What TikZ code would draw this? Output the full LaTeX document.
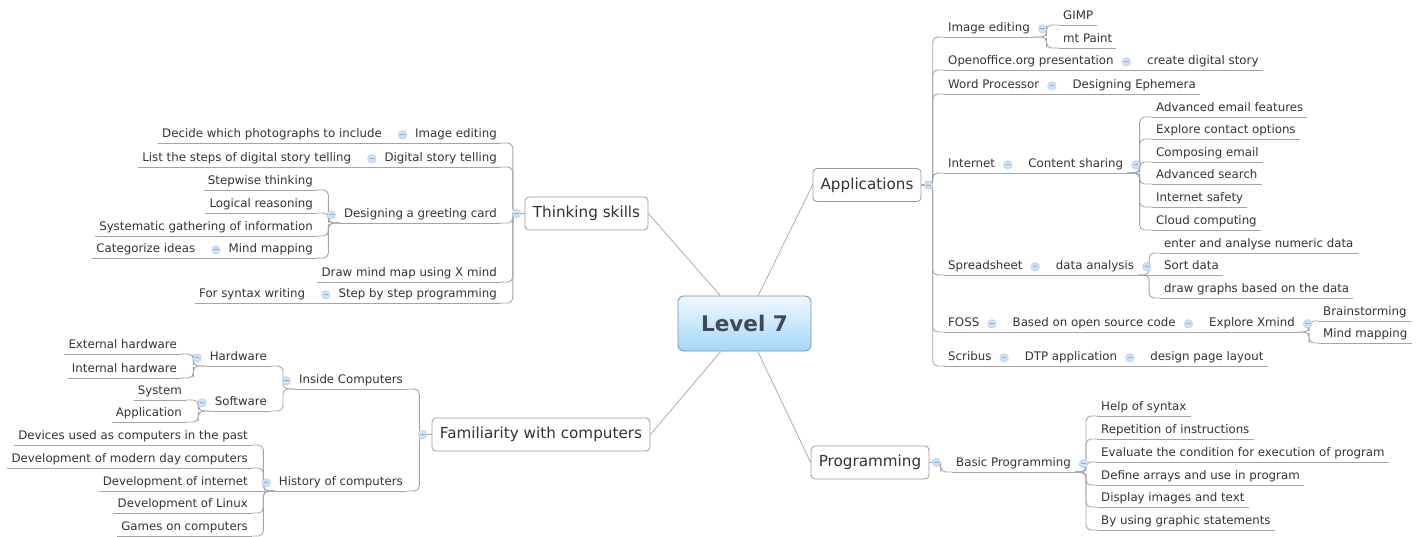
\documentclass[tikz,border=0pt]{standalone}
\usepackage{fontspec}
\setmainfont{DejaVu Sans}
\usetikzlibrary{positioning,calc}
\definecolor{ink}{HTML}{333333}
\definecolor{wire}{HTML}{A4A4A4}
\definecolor{frame}{HTML}{9A9A9A}
\definecolor{lvltop}{HTML}{F0F8FE}
\definecolor{lvlbot}{HTML}{A6D7F8}
\definecolor{lvlframe}{HTML}{7392AC}
\definecolor{lvlink}{HTML}{3C4A57}
\definecolor{togfill}{HTML}{CFE1F5}
\definecolor{togline}{HTML}{A9C5E8}
\definecolor{togdash}{HTML}{8EAFD8}
\tikzset{
  root/.style={rectangle, rounded corners=6pt, draw=lvlframe, top color=lvltop, bottom color=lvlbot,
               line width=0.8pt, minimum width=133pt, minimum height=55pt,
               font=\fontsize{21.5}{24}\selectfont\bfseries, text=lvlink},
  topic/.style={rectangle, rounded corners=4pt, draw=frame, fill=white, line width=0.8pt,
                minimum height=33pt, inner xsep=0pt, font=\fontsize{15.2}{18}\selectfont, text=ink},
  leaf/.style={inner xsep=4pt, inner ysep=2pt, text height=9pt, text depth=3pt,
               font=\fontsize{11.8}{14}\selectfont, text=ink},
  uline/.style={draw=wire, line width=0.9pt},
  link/.style={draw=wire, line width=0.9pt, rounded corners=5pt},
  spoke/.style={draw=wire!85, line width=0.9pt},
  tog/.style={circle, fill=togfill, draw=togline, line width=0.4pt, minimum size=8.5pt, inner sep=0pt,
              path picture={\draw[togdash, line width=0.9pt]
                ([xshift=-2.2pt]path picture bounding box.center) -- ([xshift=2.2pt]path picture bounding box.center);}}
}
\begin{document}
\begin{tikzpicture}[x=1pt, y=-1pt]
 \useasboundingbox (0,0) rectangle (1423,537);
 % centre and main branches
 \node[root] (lvl) at (744.5,323.5) {Level 7};
 \node[topic, minimum width=123pt] (ts) at (586.5,213.5) {Thinking skills};
 \node[topic, minimum width=218pt] (fam) at (541,434.5) {Familiarity with computers};
 \node[topic, minimum width=108pt] (app) at (867,185) {Applications};
 \node[topic, minimum width=118pt] (prog) at (870,462.5) {Programming};
 \foreach \t/\a in {ts/east, fam/east, app/west, prog/west}
   \draw[spoke] (lvl) -- (\t.\a);

 % thinking skills
 \node[leaf, anchor=south east] (ts1) at (501,143) {Image editing};
 \node[leaf, left=25pt of ts1] (ts1a) {Decide which photographs to include};
 \node[leaf, anchor=south east] (ts2) at (501,167) {Digital story telling};
 \node[leaf, left=25pt of ts2] (ts2a) {List the steps of digital story telling};
 \node[leaf, anchor=south east] (ts3) at (501,223) {Designing a greeting card};
 \node[leaf, anchor=south east] (ts3a) at (317,190) {Stepwise thinking};
 \node[leaf, anchor=south east] (ts3b) at (317,213) {Logical reasoning};
 \node[leaf, anchor=south east] (ts3c) at (317,236) {Systematic gathering of information};
 \node[leaf, anchor=south east] (ts3d) at (317,258) {Mind mapping};
 \node[leaf, left=25pt of ts3d] (ts3e) {Categorize ideas};
 \node[leaf, anchor=south east] (ts4) at (501,282) {Draw mind map using X mind};
 \node[leaf, anchor=south east] (ts5) at (501,303) {Step by step programming};
 \node[leaf, left=25pt of ts5] (ts5a) {For syntax writing};

 % familiarity with computers
 \node[leaf, anchor=south east] (fm1) at (407,389) {Inside Computers};
 \node[leaf, anchor=south east] (fm1a) at (271,366) {Hardware};
 \node[leaf, anchor=south east] (fm1a1) at (181,354) {External hardware};
 \node[leaf, anchor=south east] (fm1a2) at (181,378) {Internal hardware};
 \node[leaf, anchor=south east] (fm1b) at (271,411) {Software};
 \node[leaf, anchor=south east] (fm1b1) at (186,400) {System};
 \node[leaf, anchor=south east] (fm1b2) at (186,422) {Application};
 \node[leaf, anchor=south east] (fm2) at (407,491) {History of computers};
 \node[leaf, anchor=south east] (fm2a) at (252,445) {Devices used as computers in the past};
 \node[leaf, anchor=south east] (fm2b) at (252,468) {Development of modern day computers};
 \node[leaf, anchor=south east] (fm2c) at (252,491) {Development of internet};
 \node[leaf, anchor=south east] (fm2d) at (252,513) {Development of Linux};
 \node[leaf, anchor=south east] (fm2e) at (252,536) {Games on computers};

 % applications
 \node[leaf, anchor=south west] (ap1) at (944,37) {Image editing};
 \node[leaf, anchor=south west] (ap1a) at (1059,25) {GIMP};
 \node[leaf, anchor=south west] (ap1b) at (1059,48) {mt Paint};
 \node[leaf, anchor=south west] (ap2) at (944,70) {Openoffice.org presentation};
 \node[leaf, right=25pt of ap2] (ap2a) {create digital story};
 \node[leaf, anchor=south west] (ap3) at (944,94) {Word Processor};
 \node[leaf, right=25pt of ap3] (ap3a) {Designing Ephemera};
 \node[leaf, anchor=south west] (ap4) at (944,173) {Internet};
 \node[leaf, right=25pt of ap4] (ap4a) {Content sharing};
 \node[leaf, anchor=south west] (ap4a1) at (1152,117) {Advanced email features};
 \node[leaf, anchor=south west] (ap4a2) at (1152,139) {Explore contact options};
 \node[leaf, anchor=south west] (ap4a3) at (1152,162) {Composing email};
 \node[leaf, anchor=south west] (ap4a4) at (1152,184) {Advanced search};
 \node[leaf, anchor=south west] (ap4a5) at (1152,207) {Internet safety};
 \node[leaf, anchor=south west] (ap4a6) at (1152,230) {Cloud computing};
 \node[leaf, anchor=south west] (ap5) at (944,275) {Spreadsheet};
 \node[leaf, right=25pt of ap5] (ap5a) {data analysis};
 \node[leaf, anchor=south west] (ap5a1) at (1160,253) {enter and analyse numeric data};
 \node[leaf, anchor=south west] (ap5a2) at (1160,275) {Sort data};
 \node[leaf, anchor=south west] (ap5a3) at (1160,298) {draw graphs based on the data};
 \node[leaf, anchor=south west] (ap6) at (944,332) {FOSS};
 \node[leaf, right=25pt of ap6] (ap6a) {Based on open source code};
 \node[leaf, right=25pt of ap6a] (ap6b) {Explore Xmind};
 \node[leaf, anchor=south west] (ap6b1) at (1319,321) {Brainstorming};
 \node[leaf, anchor=south west] (ap6b2) at (1319,343) {Mind mapping};
 \node[leaf, anchor=south west] (ap7) at (944,366) {Scribus};
 \node[leaf, right=25pt of ap7] (ap7a) {DTP application};
 \node[leaf, right=25pt of ap7a] (ap7b) {design page layout};

 % programming
 \node[leaf, anchor=south west] (pg1) at (952,472) {Basic Programming};
 \node[leaf, anchor=south west] (pg1a) at (1097,416) {Help of syntax};
 \node[leaf, anchor=south west] (pg1b) at (1097,439) {Repetition of instructions};
 \node[leaf, anchor=south west] (pg1c) at (1097,462) {Evaluate the condition for execution of program};
 \node[leaf, anchor=south west] (pg1d) at (1097,485) {Define arrays and use in program};
 \node[leaf, anchor=south west] (pg1e) at (1097,507) {Display images and text};
 \node[leaf, anchor=south west] (pg1f) at (1097,530) {By using graphic statements};

 % underlines
 \foreach \n in {ts1,ts1a,ts2,ts2a,ts3,ts3a,ts3b,ts3c,ts3d,ts3e,ts4,ts5,ts5a,
                 fm1,fm1a,fm1a1,fm1a2,fm1b,fm1b1,fm1b2,fm2,fm2a,fm2b,fm2c,fm2d,fm2e,
                 ap1,ap1a,ap1b,ap2,ap2a,ap3,ap3a,ap4,ap4a,ap4a1,ap4a2,ap4a3,ap4a4,ap4a5,ap4a6,
                 ap5,ap5a,ap5a1,ap5a2,ap5a3,ap6,ap6a,ap6b,ap6b1,ap6b2,ap7,ap7a,ap7b,
                 pg1,pg1a,pg1b,pg1c,pg1d,pg1e,pg1f}
   \draw[uline] (\n.south west) -- (\n.south east);

 % left hand connectors
 \foreach \p/\c in {ts.west/ts1, ts.west/ts2, ts.west/ts3, ts.west/ts4, ts.west/ts5,
                    ts3.south west/ts3a, ts3.south west/ts3b, ts3.south west/ts3c, ts3.south west/ts3d,
                    fam.west/fm1, fam.west/fm2,
                    fm1.south west/fm1a, fm1.south west/fm1b,
                    fm1a.south west/fm1a1, fm1a.south west/fm1a2,
                    fm1b.south west/fm1b1, fm1b.south west/fm1b2,
                    fm2.south west/fm2a, fm2.south west/fm2b, fm2.south west/fm2d, fm2.south west/fm2e}
   \draw[link] (\p) -| ($(\p)!.5!(\c.south east)$) |- (\c.south east);
 % right hand connectors
 \foreach \p/\c in {app.east/ap1, app.east/ap2, app.east/ap3, app.east/ap4, app.east/ap5, app.east/ap6, app.east/ap7,
                    ap1.south east/ap1a, ap1.south east/ap1b,
                    ap4a.south east/ap4a1, ap4a.south east/ap4a2, ap4a.south east/ap4a3,
                    ap4a.south east/ap4a4, ap4a.south east/ap4a5, ap4a.south east/ap4a6,
                    ap5a.south east/ap5a1, ap5a.south east/ap5a3,
                    ap6b.south east/ap6b1, ap6b.south east/ap6b2,
                    prog.east/pg1,
                    pg1.south east/pg1a, pg1.south east/pg1b, pg1.south east/pg1c,
                    pg1.south east/pg1d, pg1.south east/pg1e, pg1.south east/pg1f}
   \draw[link] (\p) -| ($(\p)!.5!(\c.south west)$) |- (\c.south west);
 % children on the same row
 \foreach \a/\b in {ts1/ts1a, ts2/ts2a, ts3d/ts3e, ts5/ts5a, fm2/fm2c}
   \draw[link] (\a.south west) -- (\b.south east);
 \foreach \a/\b in {ap2/ap2a, ap3/ap3a, ap4/ap4a, ap5/ap5a, ap5a/ap5a2, ap6/ap6a, ap6a/ap6b, ap7/ap7a, ap7a/ap7b}
   \draw[link] (\a.south east) -- (\b.south west);

 % collapse buttons
 \foreach \n in {ts1,ts2,ts3,ts3d,ts5,fm1,fm1a,fm1b,fm2}
   \node[tog] (t-\n) at ([xshift=-8.5pt]\n.west) {};
 \foreach \n in {ap1,ap2,ap3,ap4,ap4a,ap5,ap5a,ap6,ap6a,ap6b,ap7,ap7a,pg1}
   \node[tog] (t-\n) at ([xshift=8.5pt]\n.east) {};
 \node[tog] (t-ts) at ([xshift=-8pt]ts.west) {};
 \node[tog] (t-fam) at ([xshift=-9pt]fam.west) {};
 \node[tog] (t-app) at ([xshift=7pt]app.east) {};
 \node[tog] (t-prog) at ([xshift=7pt]prog.east) {};
\end{tikzpicture}
\end{document}
